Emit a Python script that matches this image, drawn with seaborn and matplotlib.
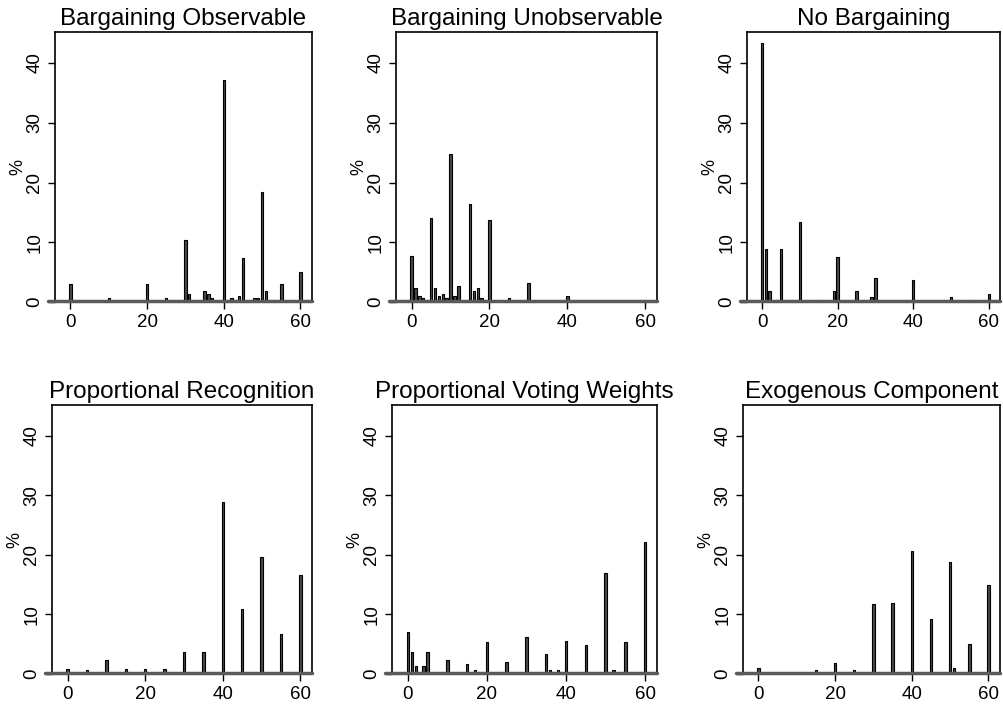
import numpy as np
import pandas as pd
import matplotlib
matplotlib.use('Agg')
import matplotlib.pyplot as plt
import seaborn as sns

sns.set_style('white')
plt.rcParams['font.family'] = ['Liberation Sans', 'DejaVu Sans']
plt.rcParams['text.color'] = 'black'
plt.rcParams['axes.labelcolor'] = 'black'
plt.rcParams['xtick.color'] = 'black'
plt.rcParams['ytick.color'] = 'black'

# данные: значения по панелям (x = значение, y = %)
titles = ['Bargaining Observable', 'Bargaining Unobservable', 'No Bargaining',
          'Proportional Recognition', 'Proportional Voting Weights', 'Exogenous Component']

obs_x = [0, 10, 20, 25, 30, 31, 35, 36, 37, 40, 42, 44, 45, 48, 49, 50, 51, 55, 60]
obs_y = [3.0, 0.6, 3.0, 0.6, 10.4, 1.4, 1.8, 1.4, 0.6, 37.1, 0.6, 1.0, 7.4, 0.6, 0.6, 18.4, 1.8, 3.0, 5.0]

unobs_x = [0, 1, 2, 3, 5, 6, 7, 8, 9, 10, 11, 12, 15, 16, 17, 18, 20, 25, 30, 40]
unobs_y = [7.7, 2.4, 1.0, 0.6, 14.1, 2.4, 1.0, 1.4, 0.6, 24.7, 1.0, 2.7, 16.4, 1.8, 2.4, 0.6, 13.8, 0.6, 3.1, 1.0]

nob_x = [0, 1, 2, 4, 5, 8, 10, 15, 19, 20, 25, 27, 29, 30, 40, 50, 55, 60]
nob_y = [43.3, 8.9, 1.8, 0.4, 8.9, 0.4, 13.4, 0.4, 1.8, 7.6, 1.8, 0.4, 0.9, 4.0, 3.6, 0.9, 0.4, 1.4]

rec_x = [0, 5, 10, 15, 20, 25, 30, 35, 40, 45, 50, 55, 60]
rec_y = [0.9, 0.7, 2.4, 0.9, 0.9, 0.9, 3.7, 3.7, 28.9, 11.0, 19.7, 6.7, 16.7]

vw_x = [0, 1, 2, 4, 5, 10, 15, 17, 20, 25, 30, 35, 36, 38, 40, 45, 50, 52, 55, 60]
vw_y = [7.0, 3.7, 1.3, 1.3, 3.7, 2.3, 1.6, 0.7, 5.3, 2.0, 6.3, 3.3, 0.7, 0.7, 5.6, 4.9, 16.9, 0.7, 5.3, 22.2]

exo_x = [0, 15, 20, 25, 30, 35, 40, 45, 50, 51, 55, 60]
exo_y = [1.0, 0.7, 1.8, 0.7, 11.7, 12.0, 20.7, 9.3, 18.8, 1.0, 5.0, 14.9]

series = [(obs_x, obs_y), (unobs_x, unobs_y), (nob_x, nob_y),
          (rec_x, rec_y), (vw_x, vw_y), (exo_x, exo_y)]

# позиции панелей в пикселях (left, top, right, bottom)
W, H = 1004, 709
boxes = [(55, 32, 312, 302), (396, 32, 657, 302), (747, 32, 1000, 302),
         (52, 405, 312, 674), (392, 405, 657, 674), (743, 405, 1000, 674)]

fig = plt.figure(figsize=(W / 100, H / 100), dpi=100)

for (l, t, r, b), title, (xs, ys) in zip(boxes, titles, series):
    ax = fig.add_axes([l / W, 1 - b / H, (r - l) / W, (b - t) / H])
    df = pd.DataFrame({'x': xs, 'y': ys})
    step = np.min(np.diff(sorted(xs)))
    sns.barplot(data=df, x='x', y='y', native_scale=True, width=0.62 / step,
                color='#4a4a4a', edgecolor='black', linewidth=0.8,
                errorbar=None, saturation=1, ax=ax)
    ax.set_xlim(-4, 63)
    ax.set_ylim(0, 45.2)
    ax.set_xticks([0, 20, 40, 60])
    ax.set_yticks([0, 10, 20, 30, 40])
    ax.tick_params(axis='both', direction='out', length=5, width=1, color='black',
                   labelsize=13.5, left=True, bottom=True)
    for lab in ax.get_yticklabels():
        lab.set_rotation(90)
        lab.set_va('center')
    ax.set_xlabel('')
    ax.set_ylabel('%', fontsize=13, labelpad=0)
    ax.set_title(title, fontsize=17.5, pad=5)
    for s in ['left', 'top', 'right']:
        ax.spines[s].set_color('black')
        ax.spines[s].set_linewidth(1.2)
    ax.spines['bottom'].set_visible(False)
    ax.axhline(0.25, xmin=-0.027, xmax=1.0, color='#5a5a5a', lw=2.5, clip_on=False, zorder=3)

plt.savefig('out.png', dpi=100)
